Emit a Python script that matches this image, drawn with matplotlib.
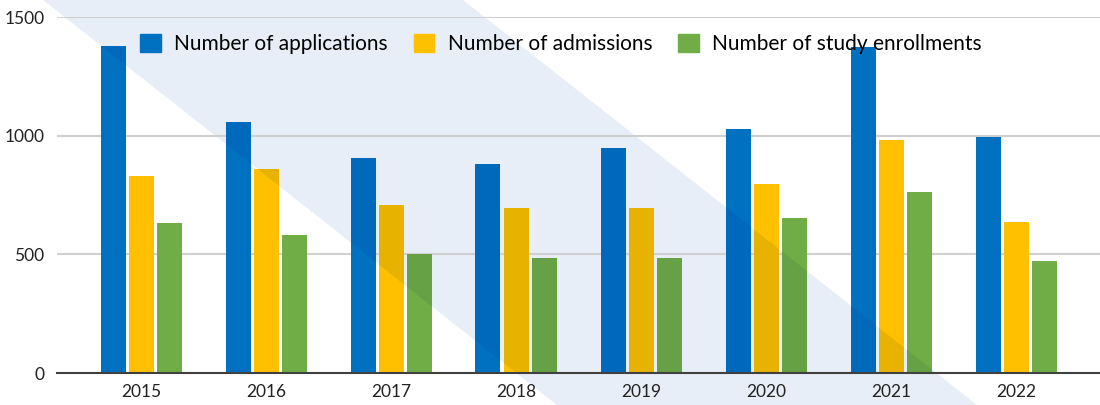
import numpy as np
import matplotlib.pyplot as plt
import matplotlib.colors as mc
from matplotlib.patches import Polygon

YEARS = ['2015', '2016', '2017', '2018', '2019', '2020', '2021', '2022']
APPLICATIONS = [1376, 1059, 907, 882, 950, 1030, 1372, 996]
ADMISSIONS = [831, 861, 709, 696, 696, 798, 983, 637]
ENROLLMENTS = [633, 582, 502, 485, 485, 654, 764, 473]
LABELS = ['Number of applications', 'Number of admissions', 'Number of study enrollments']
COLORS = ['#0070C0', '#FFC000', '#70AD47']

BAND = np.array([232, 238, 248]) / 255.0
W, H = 1100, 405

plt.rcParams['font.family'] = ['Lato', 'DejaVu Sans']

fig = plt.figure(figsize=(11, 4.05), dpi=100)
ax = fig.add_axes([57 / W, 1 - 373 / H, 1 - 57 / W, (373 - 17) / H])
ax.patch.set_visible(False)

# diagonal band (drawn behind, then bars are darkened inside it)
pts = [(43, 0), (463, 0), (977, 405), (557, 405)]
band = Polygon([(x / W, 1 - y / H) for x, y in pts], closed=True,
               transform=fig.transFigure, facecolor=BAND, edgecolor='none', zorder=-1)
fig.add_artist(band)

x = np.arange(len(YEARS))
width = 0.2
step = 0.224
series = [APPLICATIONS, ADMISSIONS, ENROLLMENTS]
for i, vals in enumerate(series):
    pos = x + (i - 1) * step
    ax.bar(pos, vals, width, color=COLORS[i], label=LABELS[i], zorder=3)
    dark = np.array(mc.to_rgb(COLORS[i])) * BAND
    bars = ax.bar(pos, vals, width, color=dark, zorder=4)
    for b in bars:
        b.set_clip_path(band)

ax.set_xlim(-0.672, 7.672)
ax.set_ylim(0, 1500)
ax.set_yticks([0, 500, 1000, 1500])
ax.set_xticks(x)
ax.set_xticklabels(YEARS)
ax.yaxis.grid(True, color='#d0d0d0', linewidth=1.5, zorder=0)
ax.set_axisbelow(True)
for s in ['top', 'right', 'left']:
    ax.spines[s].set_visible(False)
ax.spines['bottom'].set_color('#404040')
ax.spines['bottom'].set_linewidth(1.5)
ax.spines['bottom'].set_zorder(5)
ax.tick_params(axis='both', length=0, labelsize=12.5, colors='#222222')
ax.tick_params(axis='y', pad=9)
ax.tick_params(axis='x', pad=8)

handles = [plt.Rectangle((0, 0), 1, 1, color=c) for c in COLORS]
fig.legend(handles, LABELS, loc='center left', bbox_to_anchor=(140 / W, 1 - 44 / H),
           ncol=3, frameon=False, fontsize=15, handlelength=1.0, handleheight=1.0,
           handletextpad=0.63, columnspacing=1.25, borderpad=0, borderaxespad=0)

fig.savefig('out.png', dpi=100)
